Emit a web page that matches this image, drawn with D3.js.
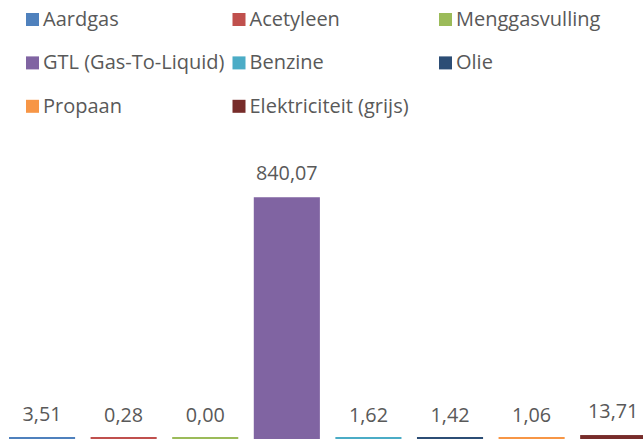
<!DOCTYPE html>
<html>
<head>
<meta charset="utf-8">
<script src="https://cdn.jsdelivr.net/npm/d3@7"></script>
<style>
    html, body { margin: 0; padding: 0; background: #fff; overflow: hidden; }
    svg { display: block; font-family: "Open Sans", sans-serif; }
    .label { fill: #595959; font-size: 19.8px; }
    .legend-text { fill: #595959; font-size: 20px; }
</style>
</head>
<body>
<div class="chart"></div>
<script>
// chart data
const categories = ["Aardgas", "Acetyleen", "Menggasvulling", "GTL (Gas-To-Liquid)",
    "Benzine", "Olie", "Propaan", "Elektriciteit (grijs)"];
const values = [3.51, 0.28, 0.00, 840.07, 1.62, 1.42, 1.06, 13.71];
const colors = ["#4F81BD", "#C0504D", "#9BBB59", "#8064A2",
    "#4BACC6", "#2C4D75", "#F79646", "#772C2A"];

const width = 643, height = 439;

const svg = d3.select(".chart")
    .append("svg")
    .attr("width", width)
    .attr("height", height);

// legend, 3 columns
const legend = svg.append("g").attr("class", "legend");
categories.forEach((name, i) => {
    const col = i % 3, row = Math.floor(i / 3);
    const g = legend.append("g")
        .attr("transform", `translate(${26 + col * 206.5},${13 + row * 43.4})`);
    g.append("rect")
        .attr("width", 13)
        .attr("height", 13)
        .attr("fill", colors[i]);
    g.append("text")
        .attr("class", "legend-text")
        .attr("x", 17)
        .attr("y", 13)
        .text(name);
});

// scales
const x = d3.scaleBand()
    .domain(categories)
    .range([1.25, 654])
    .paddingInner(0.19)
    .paddingOuter(0.095);

const y = d3.scaleLinear()
    .domain([0, 900])
    .range([height, 180]);

const fmt = v => d3.format(".2f")(v).replace(".", ",");

const bars = svg.append("g").attr("class", "bars");

// keep tiny values visible as a thin line, like the original
const barTop = v => Math.min(y(v), height - 2);

bars.selectAll("rect")
    .data(values)
    .enter()
    .append("rect")
    .attr("x", (d, i) => x(categories[i]))
    .attr("width", x.bandwidth())
    .attr("y", d => barTop(d))
    .attr("height", d => height - barTop(d))
    .attr("fill", (d, i) => colors[i]);

bars.selectAll("text")
    .data(values)
    .enter()
    .append("text")
    .attr("class", "label")
    .attr("text-anchor", "middle")
    .attr("x", (d, i) => x(categories[i]) + x.bandwidth() / 2)
    .attr("y", d => y(d) - 17)
    .text(d => fmt(d));
</script>
</body>
</html>
